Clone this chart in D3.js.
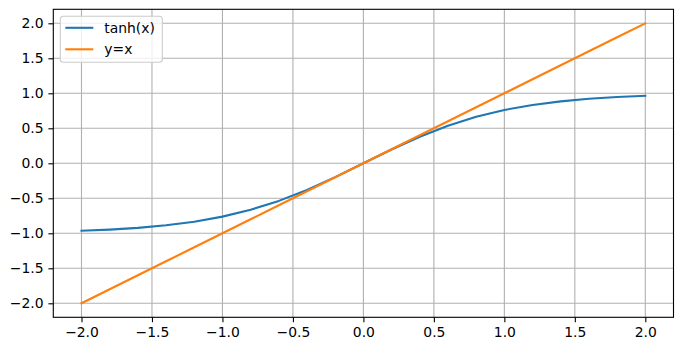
<!DOCTYPE html>
<html>
<head>
<meta charset="utf-8">
<script src="https://cdn.jsdelivr.net/npm/d3@7"></script>
<style>
  body { margin: 0; background: #fff; }
  svg { display: block; font-family: "DejaVu Sans", sans-serif; }
</style>
</head>
<body>
<div id="chart"></div>
<script>
// data
const xValues = [-2.0, -1.8, -1.6, -1.4, -1.2, -1.0, -0.8, -0.6, -0.4, -0.2, 0.0,
  0.2, 0.4, 0.6, 0.8, 1.0, 1.2, 1.4, 1.6, 1.8, 2.0];
const tanhValues = [-0.964, -0.947, -0.922, -0.885, -0.834, -0.762, -0.664, -0.537, -0.380, -0.197, 0.0,
  0.197, 0.380, 0.537, 0.664, 0.762, 0.834, 0.885, 0.922, 0.947, 0.964];
const identityValues = [-2.0, -1.8, -1.6, -1.4, -1.2, -1.0, -0.8, -0.6, -0.4, -0.2, 0.0,
  0.2, 0.4, 0.6, 0.8, 1.0, 1.2, 1.4, 1.6, 1.8, 2.0];
const xTicks = [-2.0, -1.5, -1.0, -0.5, 0.0, 0.5, 1.0, 1.5, 2.0];
const yTicks = [-2.0, -1.5, -1.0, -0.5, 0.0, 0.5, 1.0, 1.5, 2.0];
const seriesNames = ["tanh(x)", "y=x"];
const seriesColors = ["#1f77b4", "#ff7f0e"];

const width = 683, height = 351;
const margin = { top: 9.3, right: 9.5, bottom: 33.7, left: 53.3 };

const svg = d3.select("#chart")
  .append("svg")
  .attr("width", width)
  .attr("height", height);

const x = d3.scaleLinear()
  .domain([-2.2, 2.2])
  .range([margin.left, width - margin.right]);
const y = d3.scaleLinear()
  .domain([-2.2, 2.2])
  .range([height - margin.bottom, margin.top]);

const fmt = d => d3.format(".1f")(d).replace("-", "\u2212");

// grid
svg.append("g")
  .selectAll("line")
  .data(xTicks)
  .join("line")
  .attr("x1", d => x(d)).attr("x2", d => x(d))
  .attr("y1", y(-2.2)).attr("y2", y(2.2))
  .attr("stroke", "#b0b0b0").attr("stroke-width", 1.1);
svg.append("g")
  .selectAll("line")
  .data(yTicks)
  .join("line")
  .attr("y1", d => y(d)).attr("y2", d => y(d))
  .attr("x1", x(-2.2)).attr("x2", x(2.2))
  .attr("stroke", "#b0b0b0").attr("stroke-width", 1.1);

// axes
const xAxis = svg.append("g")
  .attr("transform", `translate(0,${height - margin.bottom})`)
  .call(d3.axisBottom(x).tickValues(xTicks).tickFormat(fmt).tickSize(4.9).tickPadding(4.9));
const yAxis = svg.append("g")
  .attr("transform", `translate(${margin.left},0)`)
  .call(d3.axisLeft(y).tickValues(yTicks).tickFormat(fmt).tickSize(4.9).tickPadding(4.9));
for (const ax of [xAxis, yAxis]) {
  ax.select(".domain").remove();
  ax.selectAll(".tick line").attr("stroke", "#000").attr("stroke-width", 1.1);
  ax.selectAll(".tick text")
    .attr("fill", "#000")
    .style("font-size", "13.9px")
    .style("font-family", "DejaVu Sans, sans-serif");
}

// lines
const allSeries = [tanhValues, identityValues];
allSeries.forEach((vals, i) => {
  const line = d3.line()
    .x((d, j) => x(xValues[j]))
    .y(d => y(d));
  svg.append("path")
    .datum(vals)
    .attr("fill", "none")
    .attr("stroke", seriesColors[i])
    .attr("stroke-width", 2.1)
    .attr("stroke-linejoin", "round")
    .attr("stroke-linecap", "square")
    .attr("d", line);
});

// frame
svg.append("rect")
  .attr("x", margin.left).attr("y", margin.top)
  .attr("width", width - margin.left - margin.right)
  .attr("height", height - margin.top - margin.bottom)
  .attr("fill", "none").attr("stroke", "#000").attr("stroke-width", 1.1);

// legend
const legend = svg.append("g").attr("transform", `translate(${margin.left + 7},${margin.top + 7})`);
legend.append("rect")
  .attr("width", 102).attr("height", 46).attr("rx", 3)
  .attr("fill", "#fff").attr("fill-opacity", 0.8)
  .attr("stroke", "#cccccc").attr("stroke-width", 1.1);
seriesNames.forEach((name, i) => {
  const row = legend.append("g").attr("transform", `translate(0,${11.5 + i * 21.5})`);
  row.append("line")
    .attr("x1", 5).attr("x2", 33)
    .attr("stroke", seriesColors[i]).attr("stroke-width", 2.1);
  row.append("text")
    .attr("x", 44).attr("dy", "0.35em")
    .style("font-size", "13.9px")
    .text(name);
});
</script>
</body>
</html>
